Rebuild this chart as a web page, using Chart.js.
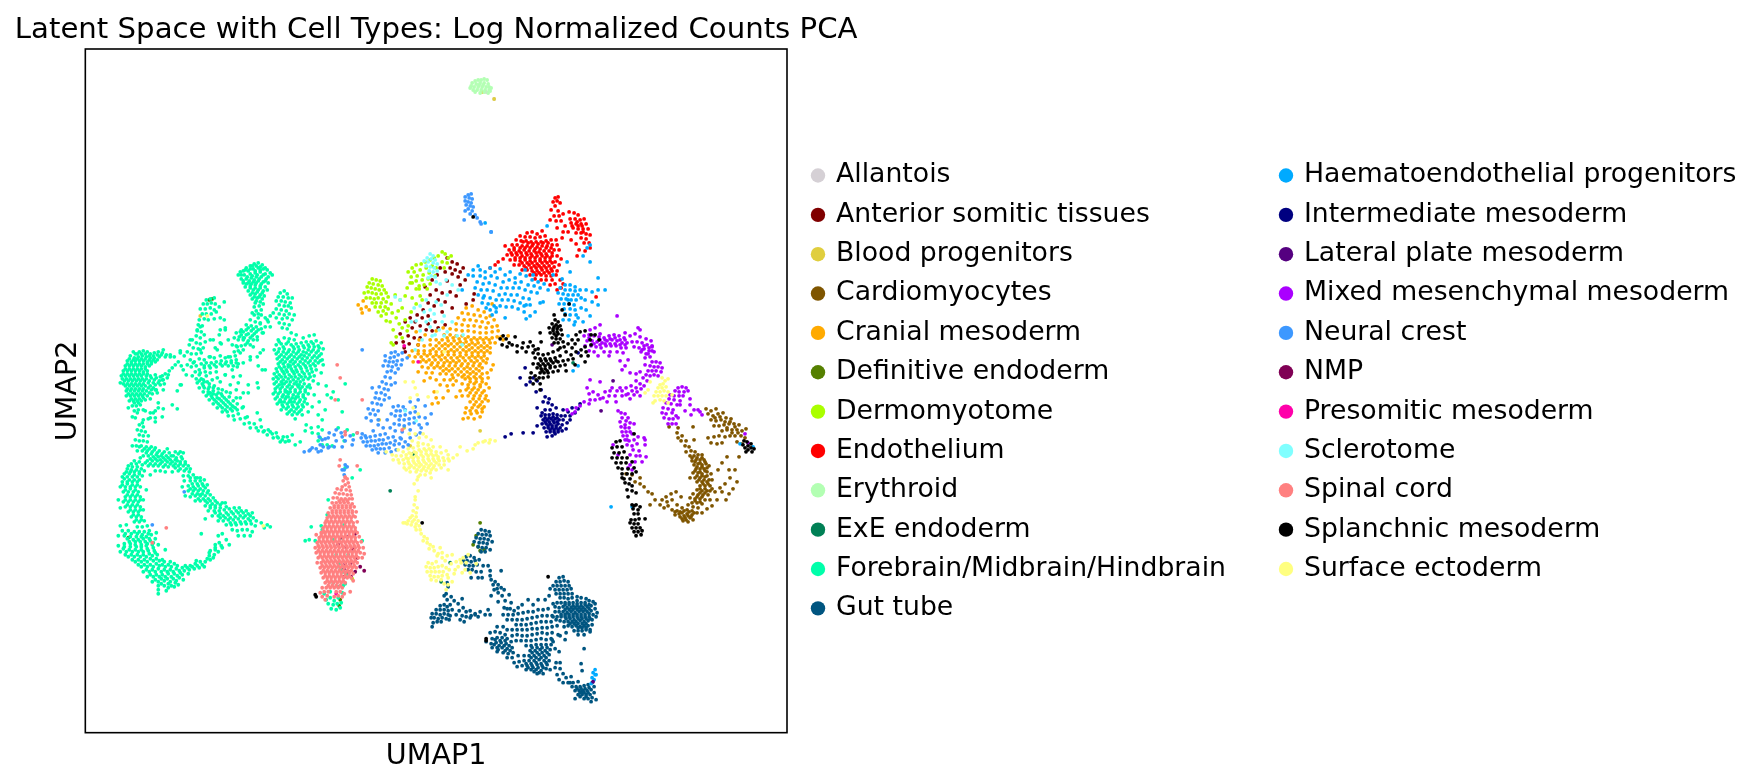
<!DOCTYPE html>
<html>
<head>
<meta charset="utf-8">
<title>Latent Space with Cell Types</title>
<script src="https://cdn.jsdelivr.net/npm/chart.js@4"></script>
<style>
  html, body { margin: 0; padding: 0; background: #fff; }
  canvas { display: block; }
</style>
</head>
<body>
<canvas id="umap" width="1762" height="784"></canvas>
<script>
// cell positions, flat x,y pairs per cell type
var allantois = [494,99, 486,92];
var anteriorSomitic = [
  447,258, 452,262, 457,264, 450,268, 455,270, 460,272, 445,272, 452,274, 458,277, 463,268, 465,280, 460,285, 447,281, 440,268, 437,275,
  432,280, 425,287, 436,290, 442,293, 430,295, 450,292, 456,296, 438,300, 445,302, 428,303, 434,306, 423,310, 417,315, 410,318, 422,318,
  428,316, 415,322, 420,326, 428,324, 435,322, 442,312, 426,330, 432,331, 412,328, 405,322, 438,328, 445,325, 408,336, 414,338, 420,338,
  403,342, 409,344, 404,348, 418,345, 405,352, 396,343, 452,308, 474,294, 473,300, 400,334, 466,304
];
var bloodProgenitors = [494,99, 482,92, 200,316, 379,420, 404,428, 410,446, 480,431];
var cardiomyocytes = [
  706,409, 711,411, 716,409, 708,414, 713,416, 718,414, 723,413, 711,420, 716,421, 721,420, 726,418, 731,419, 714,426, 719,426, 724,425,
  729,424, 734,424, 739,425, 722,431, 727,430, 732,430, 737,430, 742,431, 746,429, 730,436, 735,436, 741,436, 745,438, 714,437, 719,436, 725,437,
  711,443, 717,444, 722,443, 742,444, 737,442, 678,428, 677,433, 678,438, 682,436, 681,441, 686,441, 685,446, 689,447, 686,452, 691,451, 695,452,
  690,456, 694,456, 698,455, 702,455, 692,461, 696,460, 700,460, 704,460, 694,465, 698,464, 702,465, 706,464, 696,469, 700,469, 704,469, 709,466,
  693,473, 698,473, 702,474, 707,472, 690,478, 695,478, 700,478, 705,477, 711,474, 697,482, 702,482, 707,482, 712,480, 700,486, 705,486, 710,486,
  697,490, 702,491, 707,491, 712,489, 693,494, 698,495, 703,495, 708,495, 690,498, 695,499, 700,499, 705,500, 692,503, 697,503, 702,504, 710,500,
  715,492, 720,488, 725,484, 730,478, 735,470, 739,457, 727,457, 722,463, 688,505, 693,507, 698,508, 677,505, 682,508, 687,510, 692,511, 697,513,
  672,510, 677,511, 682,513, 687,514, 692,515, 675,515, 680,517, 685,518, 690,518, 683,521, 688,522, 693,520, 666,497, 671,494, 676,492, 662,500,
  667,502, 672,500, 660,505, 664,508, 681,497, 668,506, 707,509, 712,506, 717,500, 702,513, 722,492, 737,482, 729,494, 726,500, 733,489,
  635,482, 640,484, 644,487, 648,492, 652,494, 655,500, 650,505, 640,478, 632,475, 626,474, 669,427, 693,427, 694,440, 708,438, 729,470, 718,470,
  // thicker part of the cluster
  692,458, 697,458, 702,458, 695,462, 700,463, 705,462, 697,467, 702,467, 707,468, 695,471, 700,472, 705,471, 697,476, 702,476, 707,476, 699,480, 704,480, 709,480,
  703,484, 708,484, 700,489, 705,489, 710,491, 700,493, 705,493, 697,497, 702,497, 695,501, 700,502, 684,511, 689,512, 694,513, 679,514, 684,516, 688,516, 680,512, 675,512,
  682,519, 686,520, 691,517, 715,418, 720,417, 725,422, 730,422, 735,427, 727,428, 732,433, 738,433
];
var cranial = [
  466,308, 472,306, 478,310, 484,312, 462,313, 468,314, 474,315, 480,316, 486,318, 490,316, 458,318, 464,320, 470,320, 476,321, 482,322, 488,323, 494,320,
  456,324, 462,325, 468,326, 474,326, 480,327, 486,328, 492,327, 497,326, 450,329, 456,330, 462,331, 468,331, 474,332, 480,333, 486,333, 492,332, 498,331,
  444,335, 450,335, 456,336, 462,336, 468,337, 474,338, 480,338, 486,338, 492,338, 497,337, 430,340, 436,340, 442,340, 448,341, 454,341, 460,342, 466,342, 472,343,
  478,343, 484,343, 490,343, 495,343, 418,345, 424,346, 430,345, 436,346, 442,346, 448,346, 454,347, 460,347, 466,347, 472,348, 478,348, 484,348, 490,348, 412,351,
  418,351, 424,351, 430,351, 436,352, 442,352, 448,352, 454,352, 460,353, 466,352, 472,353, 478,353, 484,353, 490,353, 409,356, 415,357, 421,357, 427,356, 433,357,
  439,357, 445,358, 451,358, 457,358, 463,358, 469,358, 475,358, 481,358, 487,359, 413,362, 420,362, 426,362, 432,363, 438,363, 444,363, 450,363, 456,363, 462,364,
  468,364, 474,363, 480,364, 486,363, 422,367, 428,368, 434,368, 440,368, 446,369, 452,369, 458,369, 464,369, 470,369, 476,369, 482,368, 418,372, 426,373, 432,373,
  440,374, 446,374, 452,375, 458,375, 464,375, 470,374, 476,374, 482,374, 487,373, 430,378, 424,381, 436,380, 444,380, 450,380, 456,381, 465,379, 470,379, 476,379,
  482,379, 488,378, 440,385, 447,386, 453,385, 462,384, 468,385, 474,384, 480,385, 486,384, 448,391, 434,392, 460,391, 466,390, 472,390, 478,390, 484,391, 489,388,
  436,398, 443,398, 456,397, 462,396, 468,396, 474,396, 480,396, 486,396, 432,404, 438,403, 470,402, 476,402, 482,402, 488,401, 466,408, 472,408, 478,407, 484,407,
  465,413, 471,414, 477,413, 482,412, 468,418, 474,419, 480,417, 463,419, 491,370, 493,365, 363,301, 358,305, 361,309, 366,307, 362,313, 369,310, 501,337, 503,340,
  508,336, 492,304, 419,340, 425,335, 416,332, 436,331, 443,328,
  // thicker part of the cluster
  447,338, 453,338, 459,339, 465,339, 471,340, 477,340, 483,340, 489,340, 439,343, 445,344, 451,344, 457,344, 463,344, 469,345, 475,345, 481,346, 487,346, 433,349, 439,349, 445,349,
  451,350, 457,350, 463,350, 469,350, 475,351, 481,351, 487,351, 418,354, 424,354, 430,354, 436,355, 442,355, 448,355, 454,355, 460,356, 466,355, 472,356, 478,356, 484,356, 423,360, 429,360,
  435,360, 441,360, 447,361, 453,361, 459,361, 465,361, 471,361, 477,361, 483,361, 431,365, 437,366, 443,366, 449,366, 455,366, 461,366, 467,367, 473,366, 479,366, 443,371, 449,371, 455,372,
  461,372, 467,372, 473,372, 479,371, 453,378, 462,377, 468,377, 474,377, 480,377, 470,382, 476,382, 482,382, 468,388, 474,388, 480,387, 470,393, 476,393, 482,393, 473,399, 479,399, 485,399,
  474,405, 480,405, 470,411, 476,411, 482,409
];
var definitive = [209,300, 212,299, 128,538, 340,600, 339,606, 480,523, 476,536, 473,545, 478,547, 480,551, 484,550];
var dermomyotome = [
  372,279, 376,280, 380,281, 369,283, 373,284, 378,285, 382,286, 367,287, 371,288, 375,289, 379,290, 384,290, 364,293, 368,292, 372,293, 376,294, 381,294, 386,293,
  366,298, 370,298, 374,299, 378,298, 383,299, 388,297, 372,303, 376,303, 381,303, 386,302, 375,307, 380,307, 385,307, 378,312, 383,311, 388,309, 391,304, 381,316, 386,314,
  392,313, 398,311, 402,308, 395,295, 400,300, 407,288, 410,283, 405,296, 412,298, 419,289,
  442,252, 445,254, 438,256, 434,258, 448,258, 430,260, 425,262, 421,264, 416,265, 412,268, 408,272, 414,272, 420,270, 426,268, 432,266, 411,277, 417,276, 423,275, 429,273, 436,268,
  416,281, 422,280, 428,279, 435,276, 424,285, 430,284, 419,286, 427,289, 412,283, 442,262, 447,263, 451,256, 444,268, 420,296, 416,304, 411,312, 405,320, 399,324, 390,322,
  393,330, 402,328, 408,326, 396,337, 402,338, 407,331, 416,289, 396,318, 386,321, 422,300, 393,345, 391,343, 352,579
];
var endothelium = [
  555,198, 558,197, 553,202, 557,201, 560,203, 555,206, 551,210, 558,211, 554,216, 559,216, 563,214, 550,220, 556,221, 561,221, 569,212, 574,213, 578,215, 570,219, 575,219, 580,220, 584,219,
  571,223, 576,224, 581,224, 586,224, 573,228, 578,229, 583,229, 588,229, 576,233, 581,233, 586,234, 590,235, 581,238, 586,239, 584,243, 589,243, 590,248, 565,226, 563,232, 557,228, 562,238,
  571,240, 576,244, 579,250, 585,251, 577,256,
  527,233, 532,232, 537,234, 542,231, 520,236, 525,237, 530,237, 535,238, 540,237, 545,236, 516,240, 521,241, 526,241, 531,242, 536,242, 541,242, 546,241, 551,240, 556,240, 512,245, 517,245,
  522,246, 527,246, 532,246, 537,247, 542,246, 547,246, 552,245, 557,245, 509,250, 514,250, 519,251, 524,250, 529,251, 534,251, 539,252, 544,251, 549,251, 554,250, 559,250, 507,255, 512,255,
  517,255, 522,256, 527,255, 532,256, 537,256, 542,256, 547,256, 552,256, 557,256, 510,260, 515,260, 520,261, 525,260, 530,261, 535,261, 540,261, 545,261, 550,261, 555,262, 561,259, 514,265,
  519,265, 524,266, 529,265, 534,266, 539,266, 544,266, 549,266, 554,267, 559,265, 522,270, 527,270, 532,271, 537,271, 542,270, 547,271, 552,271, 557,271, 530,275, 536,275, 541,275, 546,276,
  551,276, 556,275, 535,279, 541,280, 546,280, 552,280, 550,285, 555,284, 560,280, 561,288, 557,290, 563,284, 505,246, 498,262, 503,259, 490,268, 495,265, 596,297, 568,232,
  // thicker part of the cluster
  523,242, 528,243, 533,244, 538,244, 543,243, 548,243, 514,248, 520,248, 525,248, 530,248, 535,249, 540,249, 546,248, 551,248, 511,253, 516,253, 521,253, 526,253, 531,254, 536,253, 541,254, 546,254,
  552,253, 515,258, 520,258, 525,258, 530,258, 535,258, 540,259, 545,258, 550,258, 522,263, 527,263, 532,263, 537,264, 542,263, 547,263, 552,263, 526,268, 531,268, 536,268, 541,268, 546,268, 551,269,
  534,273, 539,273, 544,273, 549,273, 577,222, 582,226, 578,226, 572,226, 583,232
];
var erythroid = [
  475,81, 478,80, 481,80, 484,79, 487,80, 472,83, 476,84, 480,83, 484,83, 488,84, 471,86, 474,87, 478,87, 482,87, 486,87, 489,87, 473,90, 477,90, 481,90, 485,90, 489,90, 491,88,
  475,92, 480,93, 484,92, 488,93, 490,91, 470,88, 479,85, 483,85
];
var exeEndoderm = [390,491, 413,454, 450,563, 441,582, 573,363];
var forebrain = [
  // top lobe and its branches
  254,264, 258,263, 262,265, 250,266, 246,268, 243,271, 240,272, 248,271, 253,269, 258,268, 263,269, 267,270, 270,273, 272,275, 238,275, 244,275, 250,274, 255,273, 260,272, 265,274, 268,277,
  241,279, 246,279, 251,278, 256,277, 261,277, 266,279, 243,283, 248,283, 253,282, 258,281, 263,282, 268,283, 245,287, 250,286, 255,285, 260,286, 265,287, 248,291, 253,290, 258,290, 263,291,
  267,290, 250,295, 255,294, 260,295, 264,296, 252,299, 257,298, 262,299, 255,303, 260,302, 254,307, 259,306, 263,304, 256,311, 261,310, 252,313, 258,314,
  280,293, 284,291, 287,294, 278,297, 283,297, 288,298, 292,298, 276,301, 281,301, 285,302, 290,303, 279,305, 284,306, 288,306, 276,309, 281,310, 286,311, 291,308, 273,313, 279,314, 284,315,
  289,314, 294,315, 276,318, 282,319, 287,318, 292,320, 279,323, 284,324, 289,325, 282,328, 287,329, 270,316, 265,318, 261,315, 268,322,
  206,300, 210,299, 214,298, 203,304, 207,304, 211,303, 215,304, 200,309, 205,309, 210,308, 214,310, 219,307, 224,302, 202,314, 206,314, 211,314, 216,312, 220,318, 199,320, 204,319, 208,320,
  214,319, 198,325, 202,326, 197,331, 201,332, 196,336, 200,338, 204,335, 192,340, 196,343, 200,344, 205,342, 189,345, 193,348, 198,349, 203,348, 187,352, 191,354, 196,354, 201,353, 184,356, 180,351,
  254,315, 258,318, 250,320, 255,322, 260,324, 265,327, 246,325, 251,326, 256,327, 261,329, 241,330, 246,330, 251,331, 256,332, 262,333, 236,333, 241,335, 246,335, 252,336, 257,337, 234,338, 238,340,
  243,340, 248,341, 253,340, 245,345, 250,345, 241,346, 236,346, 243,350, 238,351, 234,352, 215,348, 221,344, 228,340, 219,335, 210,340, 225,330, 224,320,
  252,266, 256,266, 260,267, 265,268, 245,270, 250,269, 255,271, 260,270, 241,275, 247,277, 252,276, 257,275, 263,275, 243,281, 249,281, 254,280, 259,279, 265,281, 246,284, 251,284, 256,283, 261,284,
  250,288, 255,288, 260,288, 252,293, 257,292, 262,293, 254,297, 259,297, 256,301, 248,328, 253,329, 258,330, 243,332, 248,334, 254,334, 239,337, 244,338, 250,338,
  // web running down to the right
  240,353, 235,356, 230,357, 225,358, 220,356, 214,358, 209,357, 204,360, 199,359, 194,362, 190,360, 187,365, 236,360, 231,361, 226,362, 221,361, 216,362, 211,363, 206,363, 201,364, 196,366, 191,367,
  238,364, 233,366, 228,366, 222,366, 216,367, 210,368, 204,368, 199,370, 195,372, 199,375, 192,376, 196,379, 201,379, 206,376, 197,383, 202,384, 207,382, 212,380, 199,388, 204,388, 209,387, 214,386,
  203,392, 208,392, 213,391, 218,389, 206,396, 211,396, 216,395, 221,394, 226,392, 209,400, 214,400, 219,399, 224,398, 229,397, 213,404, 218,404, 223,403, 228,402, 233,401, 217,408, 222,408, 227,407,
  232,406, 237,404, 222,412, 227,412, 232,411, 237,410, 242,408, 228,416, 233,416, 238,414, 234,420, 240,419, 245,418, 244,424, 249,423, 254,424, 250,428, 256,428, 261,427, 258,431, 264,431, 268,430,
  267,435, 272,434, 276,433, 273,438, 278,438, 283,437, 280,442, 285,442, 288,441, 216,372, 225,375, 232,370, 240,376, 220,382, 230,385, 236,390, 243,393, 236,398, 248,385, 258,388, 250,360, 258,366, 262,370,
  204,366, 209,366, 214,365, 220,364, 225,364, 231,363, 236,363, 200,373, 205,372, 199,381, 204,382, 209,384, 203,386, 208,389, 213,388, 208,394, 213,394, 218,393, 212,398, 217,398, 222,396, 216,402,
  221,401, 226,400, 220,406, 225,405, 230,404, 225,410, 230,409, 235,408,
  180,353, 190,340, 197,330, 200,327, 220,330, 225,328, 213,340, 220,343, 232,345, 237,347, 210,357, 217,350, 228,357, 200,350, 193,363, 203,380, 210,373, 217,378, 225,375, 233,377, 237,367, 243,363, 250,357,
  257,357, 260,353, 263,350, 253,347, 257,340, 263,333, 270,327, 267,320, 260,323, 240,332, 243,338, 247,343, 238,383, 248,393, 257,383, 265,370, 210,393, 222,390, 230,393, 240,398, 233,407, 243,407, 257,413,
  260,420, 247,417, 263,432, 270,432, 277,437, 282,440, 287,437, 292,435,
  // large right lobe
  291,333, 296,335, 278,340, 284,338, 289,339, 294,340, 303,338, 309,336, 314,335, 276,345, 281,344, 286,344, 291,345, 296,344, 301,343, 306,342, 311,342, 316,341, 321,343, 274,350, 279,349, 284,349,
  289,350, 294,349, 299,350, 304,348, 309,347, 314,347, 319,348, 323,349, 276,354, 281,355, 286,354, 291,355, 296,354, 301,355, 306,353, 311,352, 316,353, 321,354, 277,359, 282,360, 287,359, 292,360,
  297,359, 302,359, 307,358, 312,358, 317,358, 322,360, 278,364, 283,364, 288,365, 293,364, 298,365, 303,364, 308,363, 313,364, 318,363, 323,365, 276,369, 281,369, 286,370, 291,369, 296,370, 301,369,
  306,368, 311,369, 316,370, 274,374, 279,375, 284,374, 289,375, 294,374, 299,375, 304,374, 309,374, 314,376, 321,373, 273,379, 278,379, 283,380, 288,379, 293,380, 298,379, 303,380, 308,379, 313,381,
  274,384, 279,385, 284,384, 289,385, 294,384, 299,385, 304,384, 309,385, 318,384, 275,389, 280,389, 285,390, 290,389, 295,390, 300,389, 305,390, 310,388, 273,394, 278,394, 283,395, 288,394, 293,395,
  298,394, 303,395, 308,394, 275,399, 280,400, 285,399, 290,400, 295,399, 300,400, 305,399, 277,404, 282,405, 287,404, 292,405, 297,404, 302,405, 307,404, 281,410, 286,409, 291,410, 296,409, 301,410,
  287,414, 292,415, 297,414, 302,415, 295,419, 281,377, 286,382, 291,377, 296,382, 283,372, 288,367, 293,372, 298,387, 287,392, 292,387, 282,387, 276,377, 301,377, 286,397, 296,397, 281,402, 291,402,
  314,395, 319,402, 325,410, 312,407, 308,412, 318,415, 322,420, 306,425, 311,428, 318,427, 305,431, 312,433, 318,434, 322,430, 327,395, 331,398, 326,386, 345,384, 289,441, 295,445, 300,442, 320,438,
  279,342, 283,347, 288,342, 293,347, 298,347, 303,346, 308,345, 313,344, 318,346, 278,352, 283,352, 288,352, 293,352, 298,352, 303,352, 308,350, 313,350, 318,351, 279,357, 284,357, 289,357, 294,357,
  299,357, 304,356, 309,355, 314,356, 319,356, 280,362, 285,362, 290,362, 295,362, 300,362, 305,361, 310,361, 315,361, 320,361, 279,367, 284,367, 290,366, 295,367, 300,367, 305,366, 310,366, 315,366,
  277,372, 282,371, 287,372, 292,371, 297,372, 302,372, 307,371, 312,372, 276,382, 281,382, 285,377, 290,382, 295,377, 300,382, 305,377, 310,377, 277,387, 282,384, 287,387, 297,385, 302,387, 307,387,
  275,392, 280,392, 285,392, 290,392, 295,392, 300,392, 305,392, 277,397, 282,397, 288,397, 292,398, 298,397, 303,397, 279,402, 284,402, 289,402, 294,402, 299,402, 304,402, 283,407, 288,407, 293,407,
  298,407, 303,407, 289,412, 294,412, 299,412,
  // left ring
  143,351, 147,352, 139,352, 135,354, 150,354, 154,353, 158,352, 162,353, 166,355, 170,355, 174,357, 130,356, 134,358, 138,357, 142,356, 146,357, 150,358, 154,358, 159,357, 127,361, 131,362, 135,361,
  139,361, 143,361, 147,362, 151,362, 155,362, 125,366, 129,366, 133,366, 137,366, 141,366, 145,367, 149,366, 123,371, 127,371, 131,371, 135,371, 139,371, 143,372, 147,371, 121,376, 125,376, 129,376,
  133,376, 137,376, 141,376, 146,376, 150,376, 155,375, 160,377, 165,374, 169,371, 120,383, 124,381, 128,381, 132,381, 136,381, 140,381, 144,381, 149,381, 154,380, 159,381, 163,380, 167,378, 125,386,
  129,386, 133,386, 137,386, 141,386, 145,386, 150,386, 155,385, 160,385, 164,384, 126,391, 130,391, 134,391, 138,391, 142,391, 146,391, 151,390, 156,390, 126,396, 130,396, 134,396, 138,396, 142,396,
  147,396, 152,394, 157,393, 129,401, 133,401, 137,401, 141,401, 145,400, 150,399, 132,406, 136,406, 140,405, 134,411, 138,410, 128,408, 132,417, 150,413, 155,411, 158,408, 145,411, 163,409, 172,405,
  175,365, 178,362, 181,366, 183,370, 186,375, 181,385, 177,391, 148,419, 155,418, 142,423, 135,418,
  133,352, 137,354, 141,354, 145,354, 149,356, 153,356, 157,355, 161,355, 165,357, 129,359, 133,360, 137,359, 141,359, 145,359, 149,360, 153,360, 157,360, 127,364, 131,364, 135,364, 139,364, 143,364,
  147,364, 151,364, 125,369, 129,369, 133,369, 137,369, 141,369, 145,369, 123,374, 127,374, 131,374, 135,374, 139,374, 143,374, 147,374, 122,379, 126,379, 130,379, 134,379, 138,379, 142,379, 146,379,
  151,378, 156,378, 162,376, 123,384, 127,384, 131,384, 135,384, 139,384, 143,384, 148,383, 153,383, 158,383, 127,389, 131,389, 135,389, 139,389, 143,389, 148,388, 153,388, 128,394, 132,394, 136,394,
  140,394, 144,394, 149,393, 131,399, 135,399, 139,399, 143,398, 134,403, 138,403,
  163,350, 170,357, 172,368, 168,375, 162,380, 155,390, 158,403, 153,413, 143,410, 137,413, 150,418, 143,420, 155,422, 180,385, 177,409, 163,390, 162,417,
  // neck and lower ring
  139,425, 143,427, 137,430, 141,431, 145,432, 139,435, 143,436, 148,436, 135,440, 139,441, 143,441, 147,442, 132,446, 136,446, 141,446, 146,447, 151,447, 155,448, 137,451, 142,451, 147,451, 152,452,
  157,453, 162,454, 167,449, 143,456, 148,456, 153,457, 158,457, 163,458, 168,458, 173,456, 178,454, 183,453, 147,461, 152,461, 157,461, 162,462, 167,462, 172,462, 177,461, 182,459, 139,462, 134,461,
  128,466, 132,467, 137,467, 142,465, 148,466, 153,466, 158,466, 163,467, 168,467, 173,466, 178,466, 183,466, 188,466, 126,472, 130,472, 134,472, 139,472, 144,471, 155,471, 160,471, 165,472, 172,472,
  178,471, 184,471, 189,472, 122,477, 127,477, 132,477, 137,477, 142,476, 183,476, 188,476, 193,475, 197,478, 122,482, 127,482, 132,482, 137,482, 184,481, 190,481, 195,481, 200,481, 204,480, 120,487,
  125,487, 130,487, 135,487, 140,487, 182,487, 188,486, 193,487, 198,486, 203,486, 207,485, 123,492, 128,492, 133,492, 138,492, 188,491, 193,491, 198,491, 203,491, 208,491, 125,497, 130,497, 135,497,
  140,497, 185,496, 190,497, 195,496, 200,496, 205,496, 210,495, 118,500, 123,502, 128,502, 133,502, 138,502, 143,500, 195,501, 200,501, 205,501, 210,501, 215,501, 120,508, 125,507, 130,507, 135,507,
  140,507, 205,506, 210,506, 215,506, 220,505, 225,503, 128,512, 133,512, 138,512, 143,510, 208,511, 214,511, 219,511, 224,510, 229,509, 234,508, 239,508, 131,517, 136,517, 141,517, 212,516, 218,516, 223,516,
  228,515, 233,514, 238,513, 243,513, 248,514, 252,513, 134,522, 139,522, 144,521, 205,519, 218,521, 223,521, 228,520, 233,520, 238,519, 243,518, 248,519, 253,518, 256,521, 120,526, 126,525, 137,527, 142,527,
  147,526, 226,525, 231,525, 236,525, 241,524, 246,524, 251,524, 255,526, 261,523, 267,525, 270,527, 122,531, 128,531, 134,532, 139,532, 144,532, 149,531, 232,530, 237,531, 242,530, 247,530, 252,532, 264,528,
  118,536, 124,536, 130,537, 136,537, 141,537, 146,537, 151,535, 156,533, 129,542, 135,542, 140,542, 145,542, 150,541, 155,539, 238,536, 244,536, 250,536, 118,546, 124,547, 130,547, 136,547, 141,547, 146,546,
  152,545, 158,545, 120,552, 126,552, 132,552, 138,552, 143,552, 148,551, 154,551, 165,550, 218,536, 222,534, 226,540, 221,546, 215,550, 210,551, 222,548, 218,552, 214,555, 209,556, 128,557, 134,557, 140,557,
  146,557, 152,556, 157,555, 210,560, 205,562, 200,562, 195,564, 190,566, 185,566, 135,562, 141,562, 147,562, 153,561, 159,561, 164,562, 170,562, 204,567, 199,568, 194,569, 189,570, 184,571, 179,571, 141,567,
  147,567, 153,567, 159,566, 165,567, 171,567, 177,566, 143,572, 149,572, 155,572, 161,572, 167,572, 173,572, 147,577, 153,577, 159,577, 165,577, 171,577, 177,576, 182,575, 188,574, 152,582, 158,582, 164,581,
  170,582, 176,581, 183,580, 158,586, 164,586, 171,586, 178,585, 158,590, 166,591, 174,587, 158,594, 168,588, 196,561, 215,545, 229,545, 201,534, 150,475, 146,490, 200,495, 140,458,
  139,447, 144,449, 149,449, 154,450, 159,451, 164,452, 169,453, 175,452, 180,452, 146,453, 151,454, 156,455, 161,456, 166,456, 171,456, 176,458, 181,457, 150,459, 155,459, 160,460, 165,460, 170,460, 175,460,
  180,462, 185,462, 131,464, 136,464, 145,463, 150,464, 155,464, 160,464, 165,465, 170,464, 175,464, 180,464, 185,464, 190,469, 186,469, 180,469, 175,468, 127,469, 131,470, 136,470, 141,469, 124,474, 129,474,
  134,475, 139,474, 124,479, 129,480, 134,480, 139,480, 122,485, 127,484, 132,485, 137,485, 125,490, 130,489, 135,490, 127,495, 132,495, 137,495, 125,500, 130,500, 135,500, 140,500, 127,505, 132,505, 137,505,
  130,510, 135,510, 140,510, 133,515, 138,515, 136,520, 141,520, 190,478, 195,478, 200,478, 192,484, 197,484, 202,484, 190,489, 195,489, 200,489, 205,488, 192,494, 197,494, 202,494, 207,493, 198,499, 203,499,
  208,499, 213,498, 207,503, 212,504, 217,503, 222,503, 210,508, 215,508, 220,508, 226,507, 215,513, 220,514, 226,513, 231,512, 236,511, 241,511, 246,511, 250,516, 245,516, 240,516, 235,517, 230,518, 225,518,
  220,518, 250,521, 245,522, 240,522, 235,523, 230,523, 125,534, 131,534, 137,534, 142,535, 148,534, 127,539, 133,540, 138,540, 143,539, 149,539, 124,544, 130,544, 135,545, 141,545, 147,544, 153,543, 123,549,
  129,550, 135,550, 141,550, 147,549, 153,548, 125,555, 131,555, 137,555, 143,555, 149,554, 155,553, 132,560, 138,560, 144,560, 150,559, 156,559, 162,560, 138,565, 144,565, 150,565, 156,564, 162,565, 168,565,
  174,564, 146,570, 152,570, 158,569, 164,570, 170,570, 176,569, 182,568, 150,575, 156,575, 162,575, 168,574, 174,574, 180,573, 155,580, 161,579, 167,579, 173,579, 179,578, 161,584, 168,584, 175,583, 209,553,
  215,548, 219,543, 213,558, 207,559, 202,565, 197,566, 192,567, 187,568,
  // inside the spinal cord and strays
  326,600, 330,598, 334,601, 338,598, 328,604, 333,605, 337,604, 341,603, 331,609, 336,610, 340,608, 324,594, 330,592, 342,593, 327,515, 322,530, 321,526, 315,541, 311,527, 328,500, 333,540, 344,525, 342,538,
  348,555, 362,541, 346,575, 343,572, 340,568, 339,564, 336,555, 341,570, 345,584, 333,583, 338,587, 343,586, 345,468, 352,478, 360,470, 305,541, 309,540, 322,445,
  333,392, 338,400, 342,412, 347,430, 353,435, 338,428, 344,441, 318,441, 327,445, 332,446
];
var gutTube = [
  // top lobe
  481,530, 485,531, 489,532, 478,534, 482,535, 486,535, 490,536, 476,538, 480,539, 484,539, 488,540, 474,542, 479,543, 483,543, 487,544, 492,542, 478,547, 482,548, 486,548, 481,552, 485,552, 490,550,
  // second small lobe
  466,557, 470,556, 474,558, 463,561, 467,561, 471,562, 475,561, 479,560, 465,565, 469,566, 473,566, 477,565, 472,570, 468,570, 483,566, 476,572, 481,572, 488,566, 490,576, 478,578, 471,578,
  490,571, 482,578, 501,571,
  // left patch and links
  440,606, 444,605, 447,607, 436,610, 440,610, 444,610, 448,611, 432,614, 436,614, 440,615, 444,614, 448,615, 434,618, 438,619, 442,618, 446,619, 431,618, 433,623, 437,622, 441,622, 450,616, 432,627,
  446,594, 451,597, 447,600, 454,601, 450,605, 458,604, 452,610, 456,615, 449,620, 448,587, 444,596, 447,583, 462,599, 463,608, 459,611, 466,612, 470,611, 475,614, 462,616, 466,617, 460,620, 470,618, 475,615,
  464,622, 471,616, 478,617, 485,615, 480,612, 488,610, 490,615, 498,602, 491,580, 495,582, 498,585, 493,585, 497,589, 501,588, 494,590, 504,590, 491,596, 498,593, 502,596, 509,595, 505,601, 511,603, 507,609,
  // dense body
  504,608, 510,609, 514,611, 518,608, 522,605, 528,600, 533,605, 538,600, 545,600, 549,596, 503,615, 508,615, 513,615, 518,614, 523,613, 528,612, 533,612, 538,610, 543,610, 548,609, 553,604, 507,620, 512,620,
  517,620, 522,620, 527,619, 532,618, 537,617, 542,616, 547,616, 552,616, 516,625, 521,625, 526,625, 531,624, 536,623, 541,622, 546,622, 551,622, 556,620, 512,630, 517,630, 522,630, 527,630, 532,629, 537,629,
  542,628, 547,628, 552,627, 557,626, 497,627, 503,627, 507,630, 490,633, 495,632, 500,633, 505,635, 492,639, 497,638, 502,638, 507,639, 512,636, 517,635, 522,636, 527,636, 532,635, 537,634, 542,633, 547,634,
  552,633, 486,642, 491,644, 496,643, 501,643, 506,644, 511,642, 516,641, 521,641, 526,641, 531,641, 536,640, 541,639, 546,640, 551,639, 492,648, 497,648, 502,648, 507,649, 512,648, 526,646, 531,646, 536,645, 541,645,
  546,645, 551,645, 497,652, 503,653, 508,654, 513,653, 530,651, 535,651, 540,650, 545,651, 550,650, 555,649, 507,658, 512,658, 518,656, 524,656, 529,656, 534,656, 539,655, 544,656, 549,655, 514,663, 519,662, 524,661,
  529,661, 534,661, 539,660, 544,661, 549,661, 517,667, 522,666, 527,666, 532,666, 537,665, 542,666, 547,665, 526,670, 531,670, 536,670, 541,671, 546,669, 537,674, 543,674, 552,640, 558,635,
  495,640, 500,641, 505,641, 494,645, 499,646, 504,646, 509,646, 498,650, 505,651, 510,651, 532,648, 537,648, 542,648, 547,648, 532,653, 537,653, 542,653, 547,653, 531,658, 536,658, 541,658, 546,658, 526,664, 531,664,
  536,663, 541,664, 546,663, 528,668, 533,668, 538,668, 543,668, 534,672, 539,673,
  // right lobe
  559,578, 563,577, 556,582, 560,582, 564,581, 568,582, 553,586, 557,586, 561,586, 565,586, 569,586, 550,589, 555,590, 559,590, 563,590, 567,590, 571,589, 556,594, 560,594, 564,594, 568,594, 572,594, 577,597, 560,598,
  564,598, 568,599, 572,598, 577,601, 581,598, 586,599, 557,603, 561,603, 565,603, 569,603, 573,603, 577,604, 581,603, 585,603, 589,601, 593,602, 555,607, 559,608, 563,607, 567,608, 571,608, 575,608, 579,608, 583,608,
  587,607, 591,606, 595,604, 555,612, 559,612, 563,612, 567,613, 571,612, 575,613, 579,612, 583,612, 587,612, 591,611, 595,609, 553,617, 557,617, 561,617, 565,617, 569,617, 573,617, 577,617, 581,617, 585,617, 589,617, 593,615,
  597,613, 560,621, 564,622, 568,622, 572,622, 576,622, 580,621, 584,622, 588,621, 592,620, 596,617, 564,627, 568,626, 572,627, 576,626, 580,627, 584,626, 588,626, 592,625, 574,631, 578,631, 582,631, 586,630, 590,630, 578,635,
  584,635, 590,632, 566,633, 560,636, 565,640, 553,642, 584,649, 581,664, 559,652,
  565,605, 569,605, 573,606, 577,606, 581,606, 585,605, 589,605, 565,610, 569,610, 573,610, 577,610, 581,610, 585,610, 589,609, 561,615, 565,615, 569,615, 573,615, 577,615, 581,615, 585,615, 589,614, 566,619, 570,619, 574,620,
  578,619, 582,619, 586,619, 590,619, 570,624, 574,624, 578,624, 582,624, 586,624, 578,628, 582,628, 586,628,
  // tail and lower lobe
  555,668, 560,669, 557,675, 563,674, 559,680, 566,678, 571,677, 563,683, 568,683, 573,683, 578,682, 572,687, 576,687, 580,687, 584,686, 588,685, 592,683, 575,691, 579,691, 583,691, 587,691, 591,690, 594,687,
  578,695, 582,695, 586,695, 590,695, 594,693, 584,699, 588,699, 592,698, 575,699, 591,702, 596,700, 582,692, 582,671, 570,683, 560,663, 550,670, 556,663,
  577,689, 581,689, 585,689, 589,688, 580,693, 584,693, 588,693, 580,697, 586,697
];
var haemato = [
  // main band under the endothelium
  478,266, 473,270, 480,270, 485,272, 490,268, 495,272, 500,269, 505,275, 510,272, 515,278, 520,274, 526,276, 532,280, 538,282, 544,284, 473,276, 480,276, 485,278, 491,276, 497,278, 503,282, 509,280, 515,283, 521,282,
  528,285, 534,286, 540,288, 477,282, 483,284, 489,283, 495,285, 501,288, 507,288, 513,288, 519,288, 525,290, 531,292, 537,293, 475,288, 481,290, 487,290, 493,291, 499,295, 505,294, 511,295, 517,295, 523,298,
  529,299, 478,295, 484,296, 490,298, 496,300, 502,300, 508,300, 514,301, 520,303, 526,305, 482,303, 488,304, 494,306, 500,306, 506,307, 512,307, 518,309, 490,310, 496,312, 483,298, 486,308, 492,315, 496,308,
  548,290, 530,305, 535,312, 530,316, 540,303, 524,312, 525,270, 533,275, 468,275, 462,290, 505,318, 524,306,
  // right patch
  565,285, 570,285, 575,287, 560,288, 565,290, 570,290, 575,291, 580,290, 558,293, 563,294, 568,295, 573,295, 578,295, 561,299, 566,299, 571,300, 576,300, 581,298, 559,304, 564,304, 569,304, 574,305, 564,309, 570,309,
  575,310, 565,314, 570,315, 576,315, 563,320, 575,322, 586,290, 592,292, 585,300, 592,302, 598,305, 605,290, 578,318, 569,320, 574,325, 586,310, 590,316, 583,322, 598,290, 562,279, 570,272, 553,275,
  // strays
  547,226, 485,223, 491,232, 598,278, 590,245, 587,248, 583,256, 526,319, 581,308, 578,366, 568,336, 573,371, 543,302, 593,673, 595,675, 592,678, 594,680, 596,675, 591,684, 595,670, 740,444, 753,447, 611,507, 632,507, 568,300,
  567,262, 590,262
];
var intermediate = [
  541,416, 545,415, 549,415, 553,414, 557,415, 561,416, 543,420, 547,420, 551,419, 555,419, 559,420, 563,420, 542,424, 546,424, 550,424, 554,423, 558,424, 562,425, 544,428, 548,428, 552,428, 556,428, 560,428,
  546,432, 550,432, 554,432, 558,432, 562,431, 552,436, 547,437, 555,434, 563,410, 568,412, 572,408, 565,416, 570,416, 575,413, 578,409, 580,404, 545,397, 549,399, 543,402, 548,403, 552,405, 556,408, 550,410, 545,410,
  567,423, 570,420, 566,429, 542,413, 537,426, 533,433, 523,433, 511,434, 505,437, 537,408, 525,368, 533,378, 537,381, 530,382, 520,378, 526,385, 536,392, 541,390, 578,353,
  545,418, 549,418, 553,417, 557,418, 545,422, 549,422, 553,421, 557,422, 548,426, 552,426, 556,426, 550,430, 554,430, 558,430
];
var lateral = [613,381, 601,411, 552,345, 347,537, 344,569, 593,682];
var mixed = [
  // top band
  590,330, 595,328, 600,334, 584,336, 589,335, 594,336, 599,337, 604,338, 609,336, 614,335, 619,336, 624,338, 630,336, 635,334, 640,337, 646,339, 651,341, 587,341, 592,341, 597,342, 602,343, 607,341, 612,340, 617,341,
  622,343, 627,343, 632,342, 637,342, 642,343, 647,345, 652,346, 585,346, 591,346, 596,347, 601,348, 606,346, 611,346, 616,346, 621,348, 626,348, 634,347, 639,348, 644,349, 649,351, 654,352, 589,351, 594,352, 604,352,
  610,352, 617,352, 623,353, 641,352, 646,354, 650,357, 598,356, 609,356, 645,358, 652,347, 617,316, 600,325, 638,328, 640,330, 625,333,
  600,340, 605,340, 610,339, 615,338, 620,340, 625,340, 600,345, 605,344, 610,344, 615,344, 620,345, 625,345, 594,344, 589,338, 644,346, 649,348, 642,350, 648,354, 652,351,
  // right bend
  652,362, 656,362, 660,363, 650,366, 654,367, 658,367, 662,368, 648,371, 652,371, 656,371, 661,372, 646,375, 650,376, 654,375, 658,376, 620,361, 625,366, 622,370, 630,373, 636,374, 628,360, 640,372, 643,378, 647,381, 640,384,
  644,386, 636,381, 631,386, 636,388, 632,391, 626,388, 628,394, 634,395, 622,391, 626,395, 630,399, 637,392, 641,389, 622,396, 640,396,
  // lower loop left
  589,394, 593,392, 598,395, 590,400, 595,400, 600,399, 605,392, 610,391, 603,398, 609,396, 615,396, 620,388, 612,388, 617,391, 607,402, 616,402, 589,404, 584,402, 580,406, 576,408, 572,414, 567,410, 575,412, 590,380,
  600,382, 587,388,
  // down strand
  618,411, 621,413, 625,414, 628,418, 622,418, 626,421, 620,422, 625,425, 630,423, 621,427, 625,428, 629,428, 634,424, 622,432, 626,432, 630,432, 623,436, 627,436, 632,434, 625,440, 629,441, 634,440, 627,445, 632,446,
  638,437, 644,438, 637,444, 633,450, 639,451, 645,440, 645,445, 630,455, 636,456, 640,456, 627,440, 618,455, 613,445, 635,462, 642,462, 646,457, 630,465, 632,470, 628,468,
  // right arm
  678,388, 682,387, 686,388, 675,391, 679,392, 684,392, 688,391, 670,395, 674,396, 679,396, 683,396, 669,399, 674,400, 680,401, 666,403, 671,404, 677,405, 690,399, 663,408, 668,409, 673,410, 662,413, 666,414, 672,413, 676,416,
  664,418, 669,419, 673,419, 678,418, 672,424, 676,424, 668,424, 694,410, 698,410, 700,412, 702,415, 690,405, 685,411, 680,405, 691,415, 745,434, 748,443, 645,365
];
var neuralCrest = [
  // small top group
  468,195, 471,194, 465,197, 469,198, 472,199, 465,201, 468,202, 471,203, 466,205, 470,206, 473,207, 468,209, 472,211, 470,214, 465,211, 475,215, 477,218, 480,222, 481,224, 464,220, 491,232,
  // strand along the mesoderm
  391,353, 395,352, 385,356, 390,358, 394,357, 398,355, 402,353, 385,361, 389,362, 393,362, 397,361, 402,360, 407,358, 383,366, 388,366, 392,367, 396,365, 387,372, 391,371, 395,373, 398,369, 401,365, 385,377, 390,378,
  382,382, 386,384, 391,385, 379,387, 384,389, 388,390, 376,393, 381,393, 385,395, 375,398, 379,399, 384,400, 389,398, 372,403, 377,404, 381,405, 368,409, 373,410, 378,411, 370,414, 375,415, 366,418, 371,421, 378,420, 395,383,
  // lower groups
  393,407, 398,406, 403,407, 396,411, 400,411, 405,410, 391,414, 395,416, 400,416, 405,415, 410,413, 415,412, 399,420, 404,420, 409,419, 414,418, 419,417, 387,420, 394,424, 399,425, 404,426, 409,424, 414,423, 419,425, 425,418,
  427,424, 421,428, 431,414, 415,407, 410,402, 418,400, 425,406, 390,428, 395,431, 402,432, 410,430,
  357,433, 362,434, 365,436, 361,438, 366,438, 370,437, 375,436, 380,435, 385,434, 363,442, 367,442, 371,441, 375,441, 379,440, 383,440, 388,438, 393,437, 366,446, 370,446, 374,446, 378,445, 382,444, 386,444, 390,443, 395,441,
  372,450, 376,449, 380,449, 384,449, 389,448, 394,445, 399,444, 378,453, 385,453, 391,452, 396,450, 353,440, 350,436, 345,432, 341,433, 342,437, 405,442, 410,438, 403,447, 408,445, 416,435, 420,433, 383,428, 378,425, 373,431,
  400,438, 345,465, 342,470, 401,439, 319,437, 322,440, 328,438, 334,435, 304,452, 310,450, 316,449, 320,445, 328,448, 336,441, 345,441, 342,447, 352,445,
  // strays
  344,470, 347,467, 344,475, 309,451, 312,448, 318,452, 323,447, 329,447, 334,447, 325,439, 321,451, 152,525, 184,492, 329,433, 336,430, 372,388, 362,350
];
var nmp = [352,549, 340,538, 346,547, 355,534, 348,572, 350,564, 360,567, 355,572, 351,577, 345,564, 364,571, 344,577, 338,545, 357,558];
var presomitic = [336,594, 404,346, 418,362];
var sclerotome = [
  430,254, 433,256, 427,258, 431,259, 435,260, 424,261, 428,262, 433,263, 437,264, 426,266, 430,267, 434,268, 429,271, 433,272, 437,271, 431,276, 435,277, 428,278, 436,282, 440,284, 446,280, 452,285, 458,290, 447,295,
  441,305, 436,302, 424,312, 420,306, 426,300, 430,310, 434,314, 426,322, 420,331, 416,321, 430,327, 435,335, 439,330, 430,320, 444,316, 442,322, 447,332, 452,322, 444,336, 432,336, 414,308, 411,322, 457,336, 463,335, 400,300,
  395,297, 422,340, 415,350, 462,345, 405,411, 416,421
];
var spinalCord = [
  345,477, 347,479, 343,481, 348,483, 345,485, 342,487, 349,487, 337,489, 341,490, 346,490, 350,491, 335,493, 339,494, 343,494, 347,495, 351,495, 333,498, 337,498, 341,499, 345,499, 349,499, 352,499, 332,503, 336,503, 340,503,
  344,503, 348,503, 352,504, 330,508, 334,508, 338,508, 342,508, 346,508, 350,508, 354,507, 328,513, 332,513, 336,513, 340,513, 344,513, 348,513, 352,513, 356,512, 327,518, 331,518, 335,518, 339,518, 343,518, 347,518, 351,518,
  355,517, 325,523, 329,523, 333,523, 337,523, 341,523, 345,523, 349,523, 353,523, 357,522, 323,528, 327,528, 331,528, 335,528, 339,528, 343,528, 347,528, 351,528, 355,528, 321,533, 325,533, 329,533, 333,533, 337,533, 341,533,
  345,533, 349,533, 353,533, 357,533, 319,538, 323,538, 327,538, 331,538, 335,538, 339,538, 343,538, 347,538, 351,538, 355,538, 359,537, 317,543, 321,543, 325,543, 329,543, 333,543, 337,543, 341,543, 345,543, 349,543, 353,543,
  357,543, 361,542, 315,548, 319,548, 323,548, 327,548, 331,548, 335,548, 339,548, 343,548, 347,548, 351,548, 355,548, 359,548, 363,548, 316,553, 320,553, 324,553, 328,553, 332,553, 336,553, 340,553, 344,553, 348,553, 352,553,
  356,553, 360,553, 364,554, 318,558, 322,558, 326,558, 330,558, 334,558, 338,558, 342,558, 346,558, 350,558, 354,558, 358,558, 362,558, 317,563, 321,563, 325,563, 329,563, 333,563, 337,563, 341,563, 345,563, 349,563, 353,563,
  357,563, 320,568, 324,568, 328,568, 332,568, 336,568, 340,568, 344,568, 348,568, 352,568, 356,568, 321,573, 325,573, 329,573, 333,573, 337,573, 341,573, 345,573, 349,573, 353,574, 323,578, 327,578, 331,578, 335,578, 339,578,
  343,578, 347,578, 351,578, 325,583, 329,583, 333,583, 337,583, 341,583, 345,583, 322,588, 326,588, 330,588, 334,588, 338,588, 342,588, 320,593, 324,592, 328,592, 336,592, 340,592, 322,597, 327,596, 338,596, 342,597,
  344,594, 350,592, 334,597, 325,600, 345,478, 340,460, 357,466, 339,466, 326,521, 322,533, 316,535, 166,528, 152,543, 353,581, 345,435, 362,400, 340,378, 337,365, 402,430, 335,400, 345,432, 357,433,
  // thicker part of the cluster
  339,501, 343,501, 347,501, 334,506, 338,506, 342,506, 346,506, 350,506, 332,511, 336,511, 340,511, 344,511, 348,511, 352,511, 329,516, 333,516, 337,516, 341,516, 345,516, 349,516, 353,516, 327,521, 331,521, 335,521, 339,521, 343,521,
  347,521, 351,521, 325,526, 329,526, 333,526, 337,526, 341,526, 345,526, 349,526, 353,526, 323,531, 327,531, 331,531, 335,531, 339,531, 343,531, 347,531, 351,531, 355,531, 321,536, 325,536, 329,536, 333,536, 337,536, 341,536, 345,536,
  349,536, 353,536, 319,541, 323,541, 327,541, 331,541, 335,541, 339,541, 343,541, 347,541, 351,541, 355,541, 318,546, 322,546, 326,546, 330,546, 334,546, 338,546, 342,546, 346,546, 350,546, 354,546, 358,546, 318,551, 322,551, 326,551,
  330,551, 334,551, 338,551, 342,551, 346,551, 350,551, 354,551, 358,551, 320,556, 324,556, 328,556, 332,556, 336,556, 340,556, 344,556, 348,556, 352,556, 356,556, 323,561, 327,561, 331,561, 335,561, 339,561, 343,561, 347,561, 351,561,
  355,561, 322,566, 326,566, 330,566, 334,566, 338,566, 342,566, 346,566, 350,566, 354,566, 323,571, 327,571, 331,571, 335,571, 339,571, 343,571, 347,571, 351,571, 325,576, 329,576, 333,576, 337,576, 341,576, 345,576, 349,576, 327,581,
  331,581, 335,581, 339,581, 343,581, 328,586, 332,586, 336,586, 340,586
];
var splanchnic = [
  // upper web
  555,320, 558,322, 552,324, 556,325, 560,326, 549,328, 553,329, 557,329, 561,330, 550,333, 554,334, 558,334, 562,335, 552,338, 556,339, 560,339, 554,343, 558,343, 563,342, 560,348, 564,347, 540,333, 530,342, 535,350, 541,342,
  523,343, 517,346, 509,343, 503,336, 506,339, 500,339, 502,345, 507,347, 512,345, 517,352, 522,348, 528,347, 533,346, 538,349, 533,353, 538,354, 543,355, 548,354, 553,352, 558,350, 568,344, 572,348, 575,344, 578,340, 576,335,
  535,358, 540,359, 545,359, 550,359, 555,358, 560,356, 566,352, 571,355, 576,352, 581,350, 585,347, 533,364, 538,364, 543,364, 548,364, 553,363, 558,362, 563,361, 568,360, 573,359, 581,356, 586,352, 537,368, 541,369, 545,369,
  550,368, 555,367, 560,366, 565,365, 540,373, 544,373, 548,373, 553,372, 558,371, 535,376, 539,378, 543,378, 548,377, 530,378, 533,384, 540,384, 536,380, 531,373, 566,371, 590,340, 591,335, 585,331, 580,332, 562,310, 569,304,
  572,340, 554,315, 575,365, 591,345, 588,356, 595,335, 599,340, 526,352, 515,337, 540,390, 565,315, 585,362, 554,327, 558,327, 553,331, 557,332, 556,336, 541,361, 546,361, 551,361, 556,361, 540,366, 545,366, 550,366, 542,371, 547,371,
  // lower strand
  616,442, 620,441, 612,448, 617,447, 622,447, 614,453, 619,453, 624,452, 612,458, 617,458, 622,458, 627,458, 616,463, 621,463, 626,463, 632,462, 618,468, 622,469, 628,469, 634,468, 622,474, 627,474, 632,474, 624,479, 630,479,
  636,472, 625,483, 629,484, 622,478, 634,434, 632,486, 627,490, 628,497, 632,491, 636,493,
  632,505, 636,505, 640,507, 633,509, 638,510, 634,514, 638,514, 631,520, 635,520, 639,519, 630,523, 634,524, 638,524, 632,528, 636,528, 640,528, 634,532, 638,532, 642,531, 636,536, 641,535, 645,519, 634,506,
  // far right edge
  744,441, 747,442, 751,444, 748,446, 745,448, 748,450, 752,452, 746,452, 743,445, 754,449, 751,448,
  // strays in other groups
  315,595, 316,597, 548,577, 486,639, 486,641, 422,523, 473,217
];
var surface = [
  // main patch
  398,450, 403,452, 408,449, 413,448, 418,446, 423,444, 428,445, 433,447, 396,456, 401,456, 406,455, 411,454, 416,453, 421,452, 426,451, 431,451, 436,452, 441,453, 393,460, 398,460, 403,460, 408,459, 413,458, 418,458, 423,457,
  428,456, 433,456, 438,457, 443,458, 448,459, 453,458, 399,463, 404,464, 409,464, 414,463, 419,463, 424,462, 429,461, 434,461, 439,461, 444,461, 449,461, 404,468, 409,468, 414,468, 419,467, 424,467, 429,466, 434,466, 439,465,
  444,465, 410,472, 416,472, 421,471, 426,471, 431,470, 436,470, 441,468, 406,470, 420,475, 425,475, 430,473, 418,477, 431,478, 448,470, 448,455, 446,451, 412,441, 419,438, 426,437, 431,440, 440,447, 386,452, 392,455,
  409,453, 414,452, 419,450, 424,449, 429,449, 406,458, 411,457, 416,456, 421,455, 426,454, 431,454, 436,455, 408,462, 413,461, 418,461, 423,460, 428,459, 433,459, 438,459, 411,466, 416,465, 421,465, 426,464, 431,464, 436,463, 417,470, 423,469,
  428,468, 433,468,
  // tail to the right
  457,455, 460,447, 467,451, 475,445, 478,443, 485,441, 490,440, 495,441, 489,443, 483,442, 473,449, 418,443, 415,434, 423,434, 409,434,
  // down strand
  414,484, 417,480, 418,491, 415,497, 415,500, 414,505, 417,508, 413,511, 416,513, 412,516, 416,517, 410,518, 414,520, 418,521, 408,521, 412,522, 416,524, 407,524, 411,525, 415,527, 419,526, 405,523, 403,523, 420,530, 416,530,
  421,534, 424,537, 427,539, 423,541, 427,543, 430,545, 433,547, 429,549, 434,551, 438,554, 442,553, 440,548, 437,556, 442,558, 447,556, 445,561, 452,555,
  // lower patch
  428,563, 432,564, 436,562, 426,567, 430,568, 434,568, 438,567, 442,566, 427,572, 431,572, 435,572, 439,572, 443,572, 430,576, 434,577, 438,577, 442,576, 447,575, 431,580, 436,581, 441,580, 444,584, 448,578, 449,570, 454,574,
  446,568, 451,564, 455,570, 458,567, 460,560, 463,558, 461,563, 465,570, 466,563, 468,555, 456,562, 470,573, 448,585, 452,582, 446,590, 476,564, 462,573,
  // inside the mixed mesoderm
  660,385, 663,384, 658,388, 662,388, 666,387, 656,392, 660,392, 664,391, 668,392, 654,396, 658,396, 662,396, 666,396, 655,401, 660,400, 664,401, 668,403, 645,393, 648,390, 653,403, 672,395, 662,378, 665,381, 668,379, 650,382,
  // strays
  263,526, 207,316, 428,397, 437,392, 413,408, 418,414, 410,398, 415,388, 413,382, 444,352, 417,395, 405,382
];

// legend order, two columns as in the figure
var labels = [
  "Allantois", "Anterior somitic tissues", "Blood progenitors", "Cardiomyocytes", "Cranial mesoderm", "Definitive endoderm",
  "Dermomyotome", "Endothelium", "Erythroid", "ExE endoderm", "Forebrain/Midbrain/Hindbrain", "Gut tube",
  "Haematoendothelial progenitors", "Intermediate mesoderm", "Lateral plate mesoderm", "Mixed mesenchymal mesoderm", "Neural crest", "NMP",
  "Presomitic mesoderm", "Sclerotome", "Spinal cord", "Splanchnic mesoderm", "Surface ectoderm"
];
var colors = [
  "#d5d0d5", "#800000", "#e0ce3e", "#7f5500", "#ffaa00", "#558000",
  "#aaff00", "#ff0000", "#b3ffb3", "#008055", "#00ffaa", "#005580",
  "#00aaff", "#000080", "#550080", "#aa00ff", "#3d98ff", "#800055",
  "#ff00aa", "#80ffff", "#ff8080", "#000000", "#ffff80"
];
var series = [
  allantois, anteriorSomitic, bloodProgenitors, cardiomyocytes, cranial, definitive,
  dermomyotome, endothelium, erythroid, exeEndoderm, forebrain, gutTube,
  haemato, intermediate, lateral, mixed, neuralCrest, nmp,
  presomitic, sclerotome, spinalCord, splanchnic, surface
];
var chartTitle = "Latent Space with Cell Types: Log Normalized Counts PCA";

function toPoints(flat) {

  var points = [];
  for (var i = 0; i < flat.length; i += 2) {

    points.push({x: flat[i], y: flat[i + 1]});
  }
  return points;
}

// later cell types paint over earlier ones
var datasets = labels.map(function(name, i) {

  return {
    label: name,
    data: toPoints(series[i]),
    backgroundColor: colors[i],
    borderWidth: 0,
    pointRadius: 1.9,
    order: labels.length - i
  };
});

// frame of the axes and a title wider than the axes (the built in title gets squeezed)
var frame = {
  id: "frame",
  afterDraw: function(chart) {

    var a = chart.chartArea;
    var ctx = chart.ctx;
    ctx.save();
    ctx.strokeStyle = "#000";
    ctx.lineWidth = 1.6;
    ctx.strokeRect(a.left, a.top, a.right - a.left, a.bottom - a.top);
    ctx.fillStyle = "#000";
    ctx.font = "29.2px 'DejaVu Sans'";
    ctx.textAlign = "center";
    ctx.textBaseline = "middle";
    ctx.fillText(chartTitle, (a.left + a.right) / 2, 30);
    ctx.restore();
  }
};

// matplotlib style legend: 12 rows then a second column
var sideLegend = {
  id: "sideLegend",
  afterDraw: function(chart) {

    var ctx = chart.ctx;
    ctx.save();
    ctx.font = "26.7px 'DejaVu Sans'";
    ctx.textBaseline = "middle";
    chart.data.datasets.forEach(function(ds, i) {

      var col = i < 12 ? 818 : 1286;
      var row = i < 12 ? i : i - 12;
      var y = 175.5 + row * 39.35;
      ctx.fillStyle = ds.backgroundColor;
      ctx.beginPath();
      ctx.arc(col, y, 7.2, 0, Math.PI * 2);
      ctx.fill();
      ctx.fillStyle = "#000";
      ctx.fillText(ds.label, col + 18, y);
    });
    ctx.restore();
  }
};

var axisFont = { family: "'DejaVu Sans'", size: 28.6, lineHeight: 1.2 };

new Chart(document.getElementById("umap"), {
  type: "scatter",
  data: { datasets: datasets },
  plugins: [frame, sideLegend],
  options: {
    responsive: false,
    animation: false,
    devicePixelRatio: 1,
    layout: { padding: { left: 41, right: 975, top: 49, bottom: 10 } },
    plugins: {
      legend: { display: false },
      tooltip: { enabled: false }
    },
    scales: {
      x: {
        min: 85, max: 787,
        ticks: { display: false },
        grid: { display: false, drawTicks: false },
        border: { display: false },
        title: { display: true, text: "UMAP1", color: "#000", font: axisFont, padding: { top: 7, bottom: 0 } }
      },
      y: {
        min: 49, max: 733,
        reverse: true,
        ticks: { display: false },
        grid: { display: false, drawTicks: false },
        border: { display: false },
        title: { display: true, text: "UMAP2", color: "#000", font: axisFont, padding: { top: 10, bottom: 0 } }
      }
    }
  }
});
</script>
</body>
</html>
